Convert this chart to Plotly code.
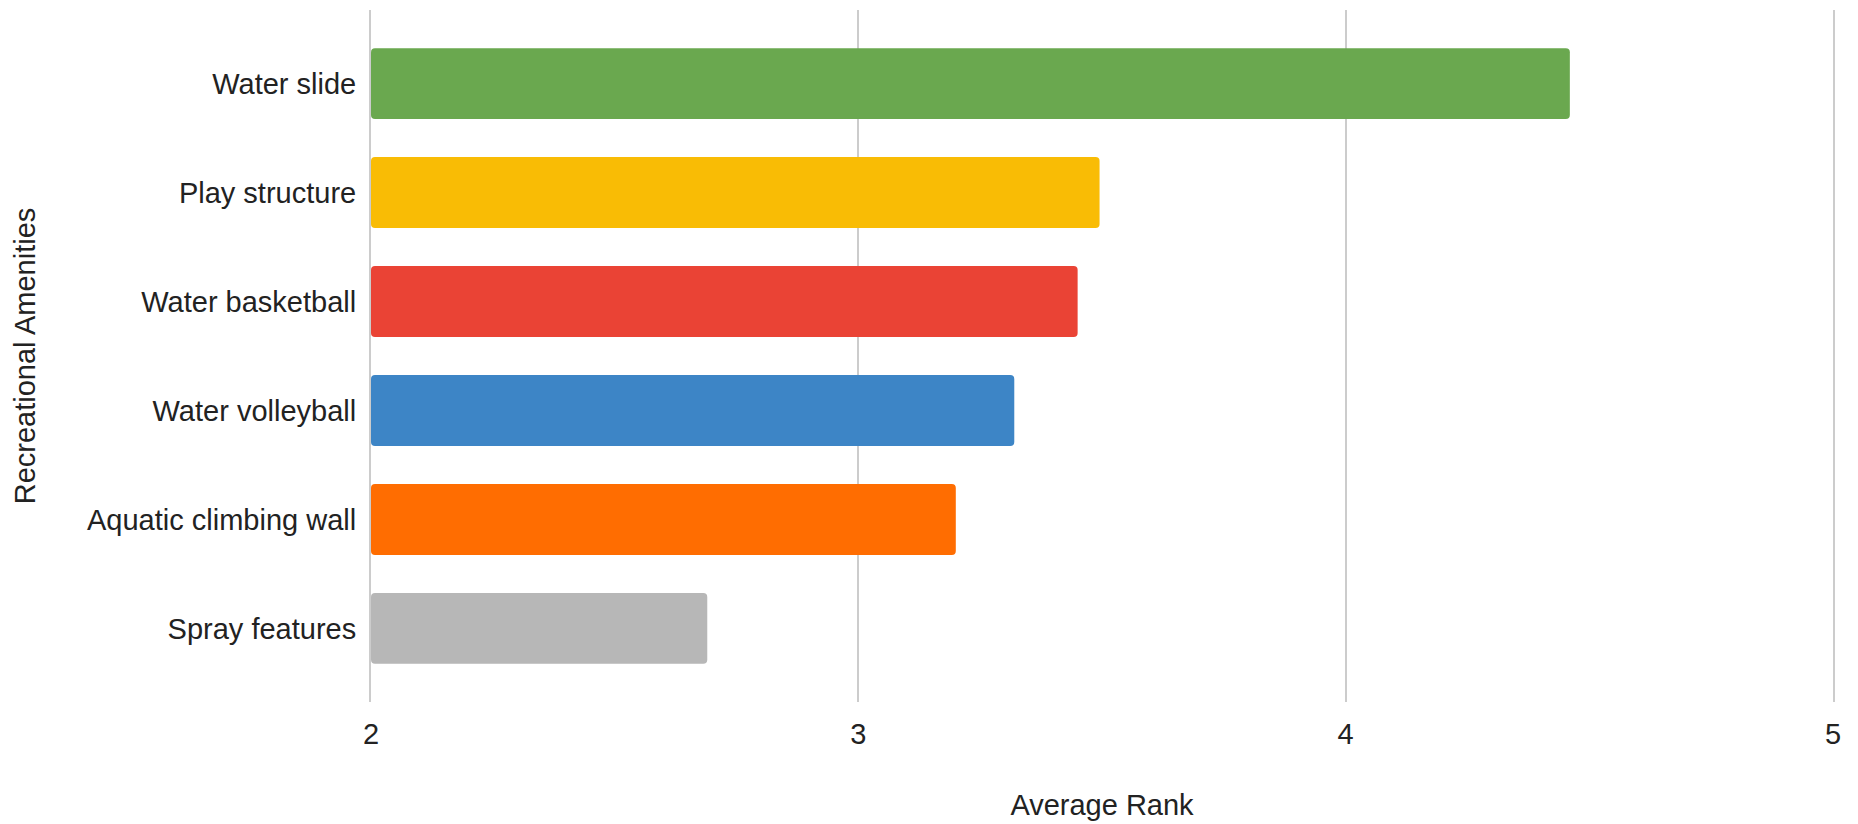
import plotly.graph_objects as go

amenities = ["Water slide", "Play structure", "Water basketball",
             "Water volleyball", "Aquatic climbing wall", "Spray features"]
avg_rank = [4.46, 3.495, 3.45, 3.32, 3.20, 2.69]
bar_colors = ["#6aa84f", "#f9bc05", "#ea4335", "#3d85c6", "#ff6d01", "#b7b7b7"]

x_ticks = [2, 3, 4, 5]

fig = go.Figure()

fig.add_trace(go.Bar(
    x=[v - 2 for v in avg_rank],
    base=2,
    y=amenities,
    orientation="h",
    marker=dict(color=bar_colors, line=dict(width=0), cornerradius=4),
    hoverinfo="x+y",
    showlegend=False,
))

fig.update_layout(
    width=1858,
    height=824,
    paper_bgcolor="white",
    plot_bgcolor="white",
    margin=dict(l=363, r=33, t=2, b=130, autoexpand=False),
    bargap=0.35,
    font=dict(family="Liberation Sans, Arial, sans-serif", size=29, color="#222222"),
)

fig.update_xaxes(
    range=[2, 5],
    tickvals=x_ticks,
    ticktext=[str(t) for t in x_ticks],
    showgrid=True,
    gridcolor="#cccccc",
    gridwidth=2,
    zeroline=False,
    showline=False,
    ticks="",
    ticklabelstandoff=12,
    title=dict(text="Average Rank", standoff=45, font=dict(size=29, color="#222222")),
)

# left/right edge lines stand in for the 2 and 5 gridlines
fig.update_yaxes(
    categoryorder="array",
    categoryarray=amenities,
    range=[5.675, -0.675],
    showgrid=False,
    zeroline=False,
    showline=True,
    linecolor="#cccccc",
    linewidth=2,
    mirror=True,
    ticks="",
    ticklabelstandoff=7,
    title=dict(text="Recreational Amenities", standoff=43, font=dict(size=29, color="#222222")),
)

fig.write_html("out.html")
